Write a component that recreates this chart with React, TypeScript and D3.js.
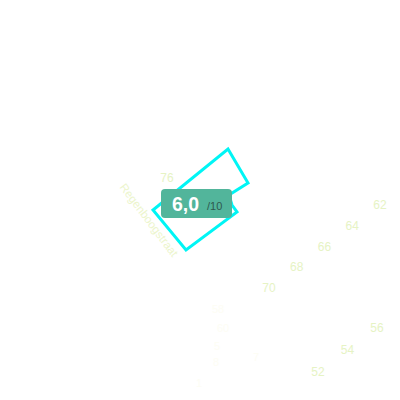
import React from 'react';
import * as d3 from 'd3';

// house numbers along the two rows of the street
const rowA = [62, 64, 66, 68, 70];
const rowB = [52, 54, 56];
const lone = [76];
const faint = ['58', '60', '5', '8', '7', '1'];
const streetName = 'Regenboogstraat';

// building outline in map units (metres from the tile origin)
const footprint: [number, number][] = [
  [228, 149], [248, 183], [229, 195], [232, 205], [237, 212], [186, 250], [153, 210],
];
const faintSpots: [number, number][] = [
  [218, 309], [223, 328], [217, 346], [216, 362], [256, 357], [199, 383],
];

const score = 6.0;
const maxScore = 10;

const W = 400;
const H = 400;

const App = () => {
  const mx = d3.scaleLinear().domain([0, 400]).range([0, W]);
  const my = d3.scaleLinear().domain([0, 400]).range([0, H]);

  const xA = d3.scaleLinear().domain([62, 70]).range([380, 269]);
  const yA = d3.scaleLinear().domain([62, 70]).range([205, 288]);
  const xB = d3.scaleLinear().domain([52, 56]).range([318, 377]);
  const yB = d3.scaleLinear().domain([52, 56]).range([372, 328]);

  const line = d3
    .line<[number, number]>()
    .x((d) => mx(d[0]))
    .y((d) => my(d[1]))
    .curve(d3.curveLinearClosed);

  const fmt = (v: number) => v.toFixed(1).replace('.', ',');
  const labelFill = '#e6f3c4';
  const font = '"Liberation Sans", Arial, sans-serif';

  return (
    <svg
      width={W}
      height={H}
      style={{ position: 'absolute', left: 0, top: 0, background: '#fff' }}
      fontFamily={font}
    >
      {faintSpots.map((p, i) => (
        <text key={i} x={mx(p[0])} y={my(p[1])} fontSize={11} fill="#fdfdf4"
          textAnchor="middle" dominantBaseline="central">{faint[i]}</text>
      ))}

      {rowA.map((n) => (
        <text key={n} x={xA(n)} y={yA(n)} fontSize={12} fill={labelFill}
          textAnchor="middle" dominantBaseline="central">{n}</text>
      ))}
      {rowB.map((n) => (
        <text key={n} x={xB(n)} y={yB(n)} fontSize={12} fill={labelFill}
          textAnchor="middle" dominantBaseline="central">{n}</text>
      ))}
      {lone.map((n) => (
        <text key={n} x={mx(167)} y={my(178)} fontSize={12} fill={labelFill}
          textAnchor="middle" dominantBaseline="central">{n}</text>
      ))}

      <text
        x={0}
        y={0}
        transform={`translate(${mx(149)},${my(220)}) rotate(53)`}
        fontSize={11.5}
        fill="#ecf5cc"
        textAnchor="middle"
        dominantBaseline="central"
      >
        {streetName}
      </text>

      <path d={line(footprint) || ''} fill="none" stroke="#00f5f5" strokeWidth={3} strokeLinejoin="miter" />

      <g transform={`translate(${mx(161)},${my(189)})`}>
        <rect width={71} height={29} rx={4} fill="#52b59b" />
        <text x={11} y={22} fontSize={19.5} fontWeight="bold" fill="#fff">{fmt(score)}</text>
        <text x={46} y={21} fontSize={11} fill="#2f5a4f">/{maxScore}</text>
      </g>
    </svg>
  );
};

export default App;
